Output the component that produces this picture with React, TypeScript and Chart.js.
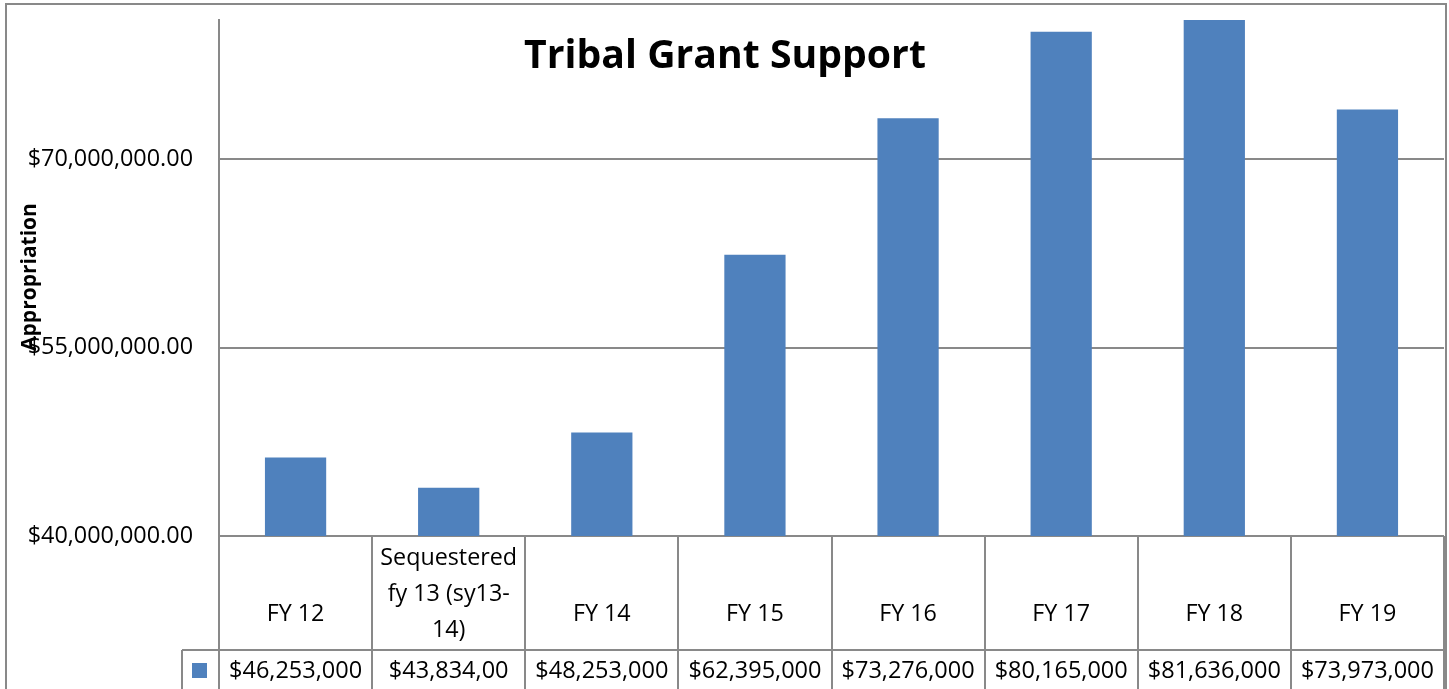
import React, { useEffect, useRef } from 'react';
import { Chart, registerables } from 'chart.js';

Chart.register(...registerables);

// ---- data ----
const categories: string[][] = [
  ['FY 12'],
  ['Sequestered', 'fy 13 (sy13-', '14)'],
  ['FY 14'],
  ['FY 15'],
  ['FY 16'],
  ['FY 17'],
  ['FY 18'],
  ['FY 19'],
];
const appropriations: number[] = [46253000, 43834000, 48253000, 62395000, 73276000, 80165000, 81636000, 73973000];
const tableValueLabels: string[] = [
  '$46,253,000',
  '$43,834,00',
  '$48,253,000',
  '$62,395,000',
  '$73,276,000',
  '$80,165,000',
  '$81,636,000',
  '$73,973,000',
];
const yTickValues: number[] = [40000000, 55000000, 70000000];
const yMin = 40000000;
const yMax = 81100000;

const chartTitle = 'Tribal Grant Support';
const yAxisTitle = 'Appropriation';

const BAR = '#4f81bd';
const GRID = '#898989';
const FONT = '"Open Sans", "Noto Sans", sans-serif';

const W = 1449;
const H = 689;

const extrasPlugin = {
  id: 'excelExtras',
  afterDraw(chart: any) {
    const { ctx, chartArea, scales } = chart;
    const x = scales.x;
    const n = categories.length;
    const half = (x.getPixelForValue(1) - x.getPixelForValue(0)) / 2;
    const top = chartArea.bottom;
    const rowSplit = 650;
    ctx.save();

    // outer frame
    ctx.strokeStyle = GRID;
    ctx.lineWidth = 2;
    ctx.strokeRect(6, 4, 1440, H + 20);

    // table lines
    ctx.beginPath();
    for (let k = 0; k <= n; k++) {
      const bx = k < n ? x.getPixelForValue(k) - half : x.getPixelForValue(n - 1) + half;
      ctx.moveTo(Math.round(bx), top);
      ctx.lineTo(Math.round(bx), H + 2);
    }
    ctx.moveTo(182, rowSplit);
    ctx.lineTo(chartArea.right, rowSplit);
    ctx.moveTo(182, rowSplit);
    ctx.lineTo(182, H + 2);
    ctx.stroke();

    // legend key
    ctx.fillStyle = BAR;
    ctx.fillRect(192, 663, 15, 15);

    // category labels
    ctx.fillStyle = '#000';
    ctx.textAlign = 'center';
    ctx.textBaseline = 'alphabetic';
    ctx.font = `23.3px ${FONT}`;
    categories.forEach((lines, i) => {
      const cx = x.getPixelForValue(i);
      if (lines.length === 1) {
        ctx.fillText(lines[0], cx, 621);
      } else {
        lines.forEach((ln, j) => ctx.fillText(ln, cx, 565 + j * 36));
      }
    });

    // values row
    ctx.font = `23.5px ${FONT}`;
    tableValueLabels.forEach((t, i) => {
      ctx.fillText(t, x.getPixelForValue(i), 678);
    });

    // chart title
    ctx.font = `bold 39.2px ${FONT}`;
    ctx.fillText(chartTitle, 725, 68);

    // y axis title
    ctx.translate(36, 277);
    ctx.rotate(-Math.PI / 2);
    ctx.font = `bold 21px ${FONT}`;
    ctx.fillText(yAxisTitle, 0, 0);
    ctx.restore();
  },
};

export default function App() {
  const ref = useRef<HTMLCanvasElement | null>(null);

  useEffect(() => {
    document.body.style.margin = '0';
    document.body.style.overflow = 'hidden';
    const canvas = ref.current;
    if (!canvas) return;
    const chart = new Chart(canvas, {
      type: 'bar',
      data: {
        labels: categories.map((c) => c.join(' ')),
        datasets: [
          {
            label: 'Appropriation',
            data: appropriations,
            backgroundColor: BAR,
            borderWidth: 0,
            barPercentage: 0.4,
            categoryPercentage: 1,
            clip: 0,
          } as any,
        ],
      },
      options: {
        responsive: false,
        animation: false,
        devicePixelRatio: 1,
        layout: { padding: { left: 0, right: 5, top: 20, bottom: 153 } },
        plugins: {
          legend: { display: false },
          title: { display: false },
          tooltip: { enabled: false },
        },
        scales: {
          x: {
            display: false,
            grid: { display: false },
          },
          y: {
            min: yMin,
            max: yMax,
            afterBuildTicks: (scale: any) => {
              scale.ticks = yTickValues.map((v) => ({ value: v }));
            },
            afterFit: (scale: any) => {
              scale.width = 219;
              scale.paddingTop = 0;
              scale.paddingBottom = 0;
            },
            grid: { color: GRID, lineWidth: 2, drawTicks: false },
            border: { display: true, color: GRID, width: 2 },
            ticks: {
              padding: 26,
              color: '#000',
              font: { family: FONT, size: 23.4 },
              callback: (v: any) =>
                '$' + Number(v).toLocaleString('en-US', { minimumFractionDigits: 2, maximumFractionDigits: 2 }),
            },
          },
        },
      },
      plugins: [extrasPlugin],
    });
    return () => chart.destroy();
  }, []);

  return (
    <div style={{ width: W, height: H, background: '#fff' }}>
      <canvas ref={ref} width={W} height={H} style={{ display: 'block', width: W, height: H }} />
    </div>
  );
}
